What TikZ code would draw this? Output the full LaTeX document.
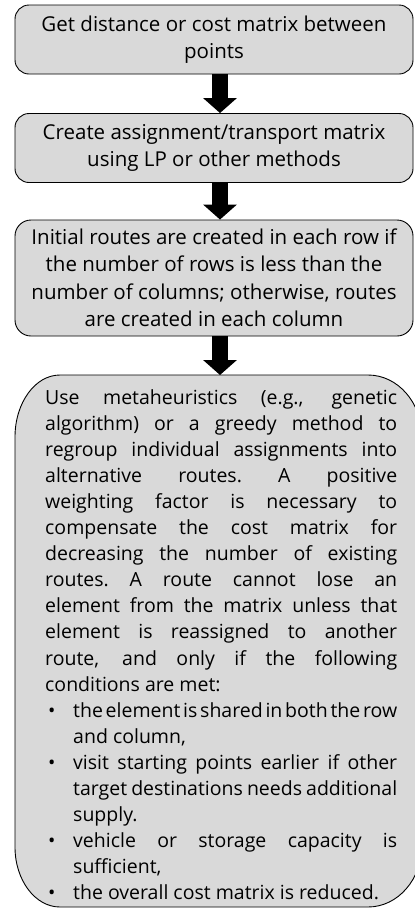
\documentclass[tikz,border=0pt]{standalone}
\usepackage{fontspec}
\setmainfont{Open Sans}
\usetikzlibrary{arrows.meta}
\definecolor{boxgray}{HTML}{D9D9D9}
\tikzset{
  boxline/.style={draw=black, line width=0.9pt},
  procbox/.style={boxline, fill=boxgray, rounded corners=14pt, minimum width=398pt,
    align=center, inner sep=0pt, font={\fontsize{20.5}{27.5}\selectfont}},
  flowarrow/.style={line width=16pt, -{Triangle[width=33pt,length=15pt]}},
  bodytext/.style={inner sep=0pt, text width=352pt, align=left,
    font={\fontsize{19.5}{26.05}\selectfont}}
}
\newcommand{\natsp}{\spaceskip=0pt\xspaceskip=0pt\relax}
\newcommand{\jsp}{\spaceskip=0.26em plus 4em minus 0.2em\xspaceskip=\spaceskip\relax}
\newcommand{\jline}[1]{\makebox[352pt][s]{\jsp #1}}
\newcommand{\lline}[1]{\makebox[352pt][l]{\natsp #1}}
\newcommand{\bjline}[1]{\hspace*{3pt}\makebox[25pt][l]{•}\makebox[324pt][s]{\jsp #1}}
\newcommand{\blline}[1]{\hspace*{3pt}\makebox[25pt][l]{•}\makebox[324pt][l]{\natsp #1}}
\newcommand{\cjline}[1]{\hspace*{28pt}\makebox[324pt][s]{\jsp #1}}
\newcommand{\clline}[1]{\hspace*{28pt}\makebox[324pt][l]{\natsp #1}}
\begin{document}
\begin{tikzpicture}
\useasboundingbox (0pt,0pt) rectangle (415pt,-908pt);
\clip (0pt,0pt) rectangle (415pt,-908pt);
\fill[white] (0pt,0pt) rectangle (415pt,-908pt);

\node[procbox, minimum height=69pt] (b1) at (214pt,-39.5pt)
  {\natsp Get distance or cost matrix between\\points};
\node[procbox, minimum height=69pt] (b2) at (214pt,-148pt)
  {\natsp Create assignment/transport matrix\\using LP or other methods};
\node[procbox, minimum height=116pt, rounded corners=16pt] (b3) at (214pt,-278pt)
  {\natsp Initial routes are created in each row if\\the number of rows is less than the\\number of columns; otherwise, routes\\are created in each column};

% last box outline
\draw[boxline, fill=boxgray] (60pt,-375pt) -- (368pt,-375pt)
  arc[start angle=90, end angle=0, x radius=54pt, y radius=62pt]
  -- (422pt,-845pt)
  arc[start angle=0, end angle=-90, x radius=54pt, y radius=62pt]
  -- (60pt,-907pt)
  arc[start angle=270, end angle=180, x radius=45pt, y radius=60pt]
  -- (15pt,-437pt)
  arc[start angle=180, end angle=90, x radius=45pt, y radius=62pt]
  -- cycle;
\coordinate (b4top) at (220pt,-375pt);

\node[bodytext, anchor=north west] (b4) at (45pt,-389.5pt) {%
\jline{Use metaheuristics (e.g., genetic}\\
\jline{algorithm) or a greedy method to}\\
\jline{regroup individual assignments into}\\
\jline{alternative routes. A positive}\\
\jline{weighting factor is necessary to}\\
\jline{compensate the cost matrix for}\\
\jline{decreasing the number of existing}\\
\jline{routes. A route cannot lose an}\\
\jline{element from the matrix unless that}\\
\jline{element is reassigned to another}\\
\jline{route, and only if the following}\\
\lline{conditions are met:}\\
\bjline{the element is shared in both the row}\\
\clline{and column,}\\
\bjline{visit starting points earlier if other}\\
\cjline{target destinations needs additional}\\
\clline{supply.}\\
\bjline{vehicle or storage capacity is}\\
\clline{sufficient,}\\
\blline{the overall cost matrix is reduced.}};

\draw[flowarrow] ([xshift=6pt]b1.south) -- ([xshift=6pt]b2.north);
\draw[flowarrow] ([xshift=6pt]b2.south) -- ([xshift=6pt]b3.north);
\draw[flowarrow] ([xshift=6pt]b3.south) -- (b4top);
\end{tikzpicture}
\end{document}
